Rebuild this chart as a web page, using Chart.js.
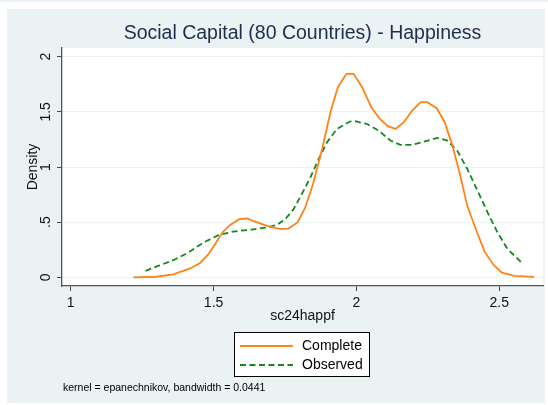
<!DOCTYPE html>
<html>
<head>
<meta charset="utf-8">
<script src="https://cdn.jsdelivr.net/npm/chart.js@4"></script>
<style>
  html, body { margin: 0; padding: 0; background: #ffffff; }
  canvas { display: block; }
</style>
</head>
<body>
<canvas id="densityChart" width="548" height="405"></canvas>
<script>
// kernel density estimates, sc24happf
const completeX = [1.219, 1.30, 1.359, 1.418, 1.453, 1.482, 1.505, 1.532, 1.558, 1.59, 1.616, 1.65, 1.687, 1.733, 1.762, 1.794, 1.821, 1.848, 1.880, 1.909, 1.935, 1.965, 1.99, 2.02, 2.052, 2.082, 2.11, 2.137, 2.166, 2.195, 2.225, 2.248, 2.281, 2.309, 2.336, 2.362, 2.388, 2.418, 2.449, 2.48, 2.509, 2.552, 2.622];
const completeY = [0, 0.005, 0.027, 0.08, 0.13, 0.21, 0.30, 0.41, 0.475, 0.527, 0.533, 0.50, 0.466, 0.436, 0.442, 0.497, 0.633, 0.845, 1.164, 1.497, 1.724, 1.845, 1.845, 1.724, 1.542, 1.436, 1.37, 1.345, 1.406, 1.512, 1.588, 1.588, 1.533, 1.406, 1.194, 0.936, 0.648, 0.436, 0.23, 0.112, 0.042, 0.012, 0.003];

const observedX = [1.262, 1.306, 1.359, 1.412, 1.464, 1.517, 1.569, 1.634, 1.687, 1.722, 1.751, 1.78, 1.809, 1.839, 1.868, 1.897, 1.932, 1.977, 1.996, 2.037, 2.078, 2.119, 2.154, 2.195, 2.236, 2.283, 2.318, 2.353, 2.388, 2.424, 2.459, 2.494, 2.529, 2.578];
const observedY = [0.058, 0.103, 0.155, 0.224, 0.315, 0.382, 0.415, 0.433, 0.451, 0.475, 0.527, 0.618, 0.755, 0.906, 1.073, 1.224, 1.345, 1.412, 1.415, 1.39, 1.33, 1.24, 1.2, 1.2, 1.23, 1.264, 1.24, 1.148, 0.982, 0.785, 0.588, 0.406, 0.255, 0.134];

const xTicks = [1, 1.5, 2, 2.5];
const xTickLabels = ['1', '1.5', '2', '2.5'];
const yTicks = [0, 0.5, 1, 1.5, 2];
const yTickLabels = ['0', '.5', '1', '1.5', '2'];

const seriesNames = ['Complete', 'Observed'];
const noteText = 'kernel = epanechnikov, bandwidth = 0.0441';

const FONT = '"Liberation Sans", Arial, Helvetica, sans-serif';
const ORANGE = '#ff8418';
const GREEN = '#14891a';
const DASH = [6, 3.5];

function toPoints(xs, ys) {
  return xs.map(function (x, i) { return { x: x, y: ys[i] }; });
}

// stata-ish backdrop: light frame, white plot region
const backdrop = {
  id: 'backdrop',
  beforeDraw(chart) {
    const c = chart.ctx;
    const a = chart.chartArea;
    c.save();
    c.fillStyle = '#eaf2f3';
    c.fillRect(0, 0, 548, 2);
    c.fillRect(7, 9, 538, 394);
    c.fillStyle = '#ffffff';
    c.fillRect(a.left, a.top, a.right - a.left, a.bottom - a.top);
    c.restore();
  }
};

// boxed legend under the axis title, plus the kernel note
const legendBox = {
  id: 'legendBox',
  afterDraw(chart) {
    const c = chart.ctx;
    c.save();
    c.fillStyle = '#ffffff';
    c.fillRect(234, 332, 136, 45);
    c.strokeStyle = '#000000';
    c.lineWidth = 1;
    c.strokeRect(234.5, 332.5, 135, 44);

    const rows = [346, 365];
    chart.data.datasets.forEach(function (ds, i) {
      c.beginPath();
      c.strokeStyle = ds.borderColor;
      c.lineWidth = ds.borderWidth;
      c.setLineDash(ds.borderDash || []);
      c.moveTo(240, rows[i]);
      c.lineTo(293, rows[i]);
      c.stroke();
      c.setLineDash([]);
      c.fillStyle = '#000000';
      c.font = '14px ' + FONT;
      c.textBaseline = 'middle';
      c.textAlign = 'left';
      c.fillText(ds.label, 302, rows[i]);
    });

    c.font = '10.5px ' + FONT;
    c.fillStyle = '#000000';
    c.textBaseline = 'middle';
    c.fillText(noteText, 63, 388);
    c.restore();
  }
};

const ctx = document.getElementById('densityChart').getContext('2d');
const densityChart = new Chart(ctx, {
  type: 'line',
  data: {
    datasets: [{
      label: seriesNames[0],
      data: toPoints(completeX, completeY),
      borderColor: ORANGE,
      borderWidth: 1.8,
      pointRadius: 0,
      tension: 0,
      fill: false
    }, {
      label: seriesNames[1],
      data: toPoints(observedX, observedY),
      borderColor: GREEN,
      borderWidth: 1.8,
      borderDash: DASH,
      pointRadius: 0,
      tension: 0,
      fill: false
    }]
  },
  options: {
    responsive: false,
    animation: false,
    layout: { padding: { left: 0, right: 5, top: 0, bottom: 74 } },
    plugins: {
      legend: { display: false },
      tooltip: { enabled: false },
      title: {
        display: true,
        text: 'Social Capital (80 Countries) - Happiness',
        fullSize: false,
        color: '#1f2d4f',
        font: { family: FONT, size: 19.5, weight: 'normal' },
        padding: { top: 22.3, bottom: 2.3 }
      }
    },
    scales: {
      x: {
        type: 'linear',
        min: 0.9695,
        max: 2.653,
        afterBuildTicks: function (scale) {
          scale.ticks = xTicks.map(function (v) { return { value: v }; });
        },
        afterFit: function (scale) { scale.height = 45; },
        ticks: {
          autoSkip: false,
          maxRotation: 0,
          padding: 4,
          color: '#111111',
          font: { family: FONT, size: 14 },
          callback: function (v) { return xTickLabels[xTicks.indexOf(v)]; }
        },
        grid: {
          drawOnChartArea: false,
          drawTicks: true,
          tickLength: 5,
          tickColor: '#444444'
        },
        border: { display: true, color: '#555555', width: 1.3 },
        title: {
          display: true,
          text: 'sc24happf',
          color: '#111111',
          font: { family: FONT, size: 14 },
          padding: { top: 0, bottom: 6.2 }
        }
      },
      y: {
        type: 'linear',
        min: -0.079,
        max: 2.079,
        afterBuildTicks: function (scale) {
          scale.ticks = yTicks.map(function (v) { return { value: v }; });
        },
        afterFit: function (scale) { scale.width = 62; },
        ticks: {
          autoSkip: false,
          minRotation: 90,
          maxRotation: 90,
          crossAlign: 'center',
          padding: 1,
          color: '#111111',
          font: { family: FONT, size: 14 },
          callback: function (v) { return yTickLabels[yTicks.indexOf(v)]; }
        },
        grid: {
          color: '#eaf2f3',
          lineWidth: 1,
          drawTicks: true,
          tickLength: 5,
          tickColor: '#444444'
        },
        border: { display: true, color: '#555555', width: 1.3 },
        title: {
          display: true,
          text: 'Density',
          color: '#111111',
          font: { family: FONT, size: 14 },
          padding: { top: 25, bottom: 0 }
        }
      }
    }
  },
  plugins: [backdrop, legendBox]
});
</script>
</body>
</html>
